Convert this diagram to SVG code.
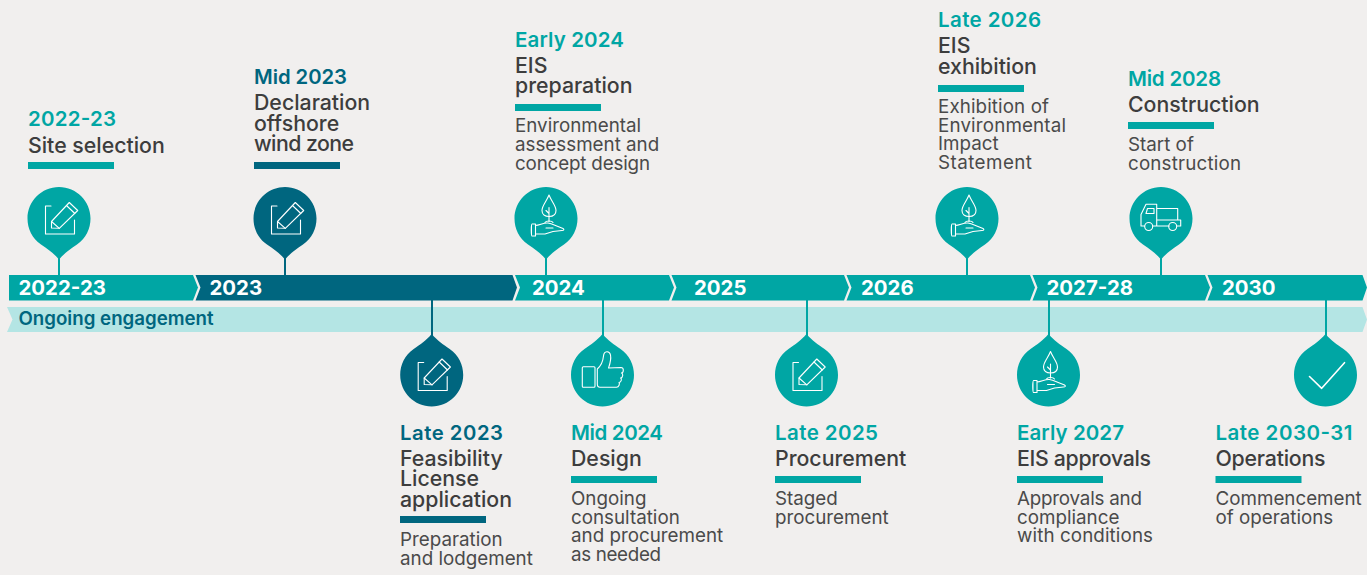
<svg xmlns="http://www.w3.org/2000/svg" width="1367" height="575" viewBox="0 0 1367 575">
<style>
text{font-family:"Inter","Noto Sans",sans-serif}
.d,.dn,.t,.b{transform:translateY(.6px)}
.d{font-size:20.500px;font-weight:600;fill:#00a6a4}
.dn{font-size:20.300px;font-weight:600;fill:#00667f}
.t{font-size:21.300px;font-weight:500;fill:#3d3d3d}
.b{font-size:18.800px;font-weight:400;fill:#4a4a4a}
.y{font-size:20.400px;font-weight:700;fill:#fff}
.e{font-size:18.700px;font-weight:600;fill:#00667f}
.i{fill:none;stroke:#fff;stroke-width:1.100;stroke-linejoin:round;stroke-linecap:round}
.teal{fill:#00a6a4}.navy{fill:#00667f}
.lt{stroke:#00a6a4;stroke-width:2;fill:none}.ln{stroke:#00667f;stroke-width:2;fill:none}
</style>
<defs>
<path id="pinD" d="M0,41C-6,34 -11,31 -18,26C-27,20 -31.500,10 -31.500,0C-31.500,-17.400 -17.400,-31.500 0,-31.500C17.400,-31.500 31.500,-17.400 31.500,0C31.500,10 27,20 18,26C11,31 6,34 0,41Z"/>
<path id="pinU" d="M0,-41C6,-34 11,-31 18,-26C27,-20 31.500,-10 31.500,0C31.500,17.400 17.400,31.500 0,31.500C-17.400,31.500 -31.500,17.400 -31.500,0C-31.500,-10 -27,-20 -18,-26C-11,-31 -6,-34 0,-41Z"/>
<g id="pencil" class="i"><path d="M-8,-12.500H-13.500V15.500H15.500V1.500"/><path d="M-7.500,3L10.300,-16L18.700,-8L0.300,9.800L-7.500,9.500Z"/><path d="M7.500,-13L15.800,-5M-7.500,3L0.300,9.800"/></g>
<g id="plant" class="i"><path d="M2,-23.500C-0.500,-17 -5,-13 -5,-8C-5,-4 -2,-2 2,-2C6,-2 9,-4 9,-8C9,-13 4.500,-17 2,-23.500Z"/><path d="M2,-11V3M2,-5L-1,-8"/><path d="M-2,4C-1,2 5,2 6,4"/><path d="M-15,5.500H-11.500V17.500H-15C-16,17.500 -16,5.500 -15,5.500ZM-11.500,7C-7,6.500 -3,4 1,4.500C5,5 8,7 11,8L16,10C17.500,11 17,12 15,12L6,13L-2,15.500L-11.500,15.500M-1,9.500H6"/></g>
<g id="truck" class="i"><path d="M-20,7.500V-4L-15,-14.200H-4.300V7.500M-4.300,-10H16.700V1.500M-4.300,1.500H19.700V7.500H16M8,7.500H-8.500M-16.500,7.500H-20"/><path d="M-15,-5L-13.500,-10H-7V-5Z"/><circle cx="-12.300" cy="8" r="4"/><circle cx="11.700" cy="8" r="4"/></g>
<g id="thumb" class="i"><rect x="-20.700" y="-8.300" width="12.700" height="20.600" rx="1"/><path d="M-5.700,-6C-1,-10 0,-14 0.500,-19C1,-24.500 6.500,-24.500 7.500,-20C8.500,-15 6.500,-10 5.500,-7L18,-7.500C21,-7.500 21,-2.500 18.500,-2C20.500,-1.500 20,3 17.500,3C19,3.500 18.500,7.500 16,7.500C17,8.500 16,12.300 13.500,12.300H-3C-5,12.300 -5.700,11 -5.700,9Z"/></g>
</defs>
<rect width="1367" height="575" fill="#f1efee"/>
<g id="ongoing">
<path d="M7,307H1362.500L1367,319.500L1362.500,332H7L12.500,319.500Z" fill="#b4e5e4"/>
<text class="e" x="18.500" y="325">Ongoing engagement</text>
</g>
<g id="connectors">
<path class="lt" d="M59,255V275"/><path class="ln" d="M285,255V275"/><path class="lt" d="M546,255V275"/><path class="lt" d="M967,255V275"/><path class="lt" d="M1161,255V275"/>
<path class="ln" d="M432,300V340"/><path class="lt" d="M603,300V340"/><path class="lt" d="M807,300V340"/><path class="lt" d="M1049,300V340"/><path class="lt" d="M1326,300V340"/>
</g>
<g id="bar">
<path class="teal" d="M9,275H193L198,287.500L193,300.500H9Z"/>
<path class="navy" d="M195.500,275H512.500L517,287.500L512.500,300.500H195.500L200.500,287.500Z"/>
<path class="teal" d="M515,275H669L674,287.500L669,300.500H515L520,287.500Z"/>
<path class="teal" d="M671.500,275H844L849,287.500L844,300.500H671.500L676.500,287.500Z"/>
<path class="teal" d="M846.500,275H1030L1035,287.500L1030,300.500H846.500L851.500,287.500Z"/>
<path class="teal" d="M1032.500,275H1205L1210,287.500L1205,300.500H1032.500L1037.500,287.500Z"/>
<path class="teal" d="M1207.500,275H1362.500L1367,287.500L1362.500,300.500H1207.500L1212.500,287.500Z"/>
<text class="y" x="18.500" y="295">2022-23</text><text class="y" x="209.500" y="295">2023</text><text class="y" x="532" y="295">2024</text><text class="y" x="694" y="295">2025</text><text class="y" x="861" y="295">2026</text><text class="y" x="1046.500" y="295">2027-28</text><text class="y" x="1222" y="295">2030</text>
</g>
<g id="n2022-23"><use href="#pinD" class="teal" x="59" y="218.500"/><use href="#pencil" x="59" y="218.500"/>
<text class="d" x="28" y="125" textLength="88">2022-23</text><text class="t" x="28" y="152">Site selection</text><rect class="teal" x="28" y="162" width="86" height="7"/></g>
<g id="nMid2023"><use href="#pinD" class="navy" x="285" y="218.500"/><use href="#pencil" x="285" y="218.500"/>
<text class="dn" x="254" y="83" textLength="93">Mid 2023</text><text class="t" x="254" y="109">Declaration</text><text class="t" x="254" y="130">offshore</text><text class="t" x="254" y="150" textLength="100">wind zone</text><rect class="navy" x="254" y="162" width="86" height="7"/></g>
<g id="nEarly2024"><use href="#pinD" class="teal" x="546" y="218.500"/><use href="#plant" x="547" y="218.500"/>
<text class="d" x="515" y="46" textLength="109">Early 2024</text><text class="t" x="515" y="72">EIS</text><text class="t" x="515" y="92">preparation</text><rect class="teal" x="515" y="104" width="86" height="7"/>
<text class="b" x="515" y="131">Environmental</text><text class="b" x="515" y="150">assessment and</text><text class="b" x="515" y="169" textLength="135">concept design</text></g>
<g id="nLate2026"><use href="#pinD" class="teal" x="967" y="218.500"/><use href="#plant" x="967" y="218.500"/>
<text class="d" x="938" y="26" textLength="103">Late 2026</text><text class="t" x="938" y="52">EIS</text><text class="t" x="938" y="73">exhibition</text><rect class="teal" x="938" y="85" width="86" height="7"/>
<text class="b" x="938" y="112" textLength="111">Exhibition of</text><text class="b" x="938" y="131" textLength="128">Environmental</text><text class="b" x="938" y="149.500">Impact</text><text class="b" x="938" y="168" textLength="94">Statement</text></g>
<g id="nMid2028"><use href="#pinD" class="teal" x="1161" y="218.500"/><use href="#truck" x="1161" y="218.500"/>
<text class="d" x="1128" y="85" textLength="93">Mid 2028</text><text class="t" x="1128" y="111">Construction</text><rect class="teal" x="1128" y="122" width="86" height="7"/>
<text class="b" x="1128" y="150">Start of</text><text class="b" x="1128" y="169" textLength="113">construction</text></g>
<g id="nLate2023"><use href="#pinU" class="navy" x="431.700" y="375"/><use href="#pencil" x="431.700" y="375"/>
<text class="dn" x="400" y="439" textLength="103">Late 2023</text><text class="t" x="400" y="465">Feasibility</text><text class="t" x="400" y="485">License</text><text class="t" x="400" y="506">application</text><rect class="navy" x="400" y="516" width="86" height="7"/>
<text class="b" x="400" y="545">Preparation</text><text class="b" x="400" y="564">and lodgement</text></g>
<g id="nMid2024"><use href="#pinU" class="teal" x="602.500" y="375"/><use href="#thumb" x="603" y="375"/>
<text class="d" x="571" y="439" textLength="92">Mid 2024</text><text class="t" x="571" y="465">Design</text><rect class="teal" x="571" y="476" width="86" height="7"/>
<text class="b" x="571" y="504">Ongoing</text><text class="b" x="571" y="523">consultation</text><text class="b" x="571" y="541.500">and procurement</text><text class="b" x="571" y="560" textLength="90">as needed</text></g>
<g id="nLate2025"><use href="#pinU" class="teal" x="806.500" y="375"/><use href="#pencil" x="806.500" y="375"/>
<text class="d" x="775" y="439" textLength="103">Late 2025</text><text class="t" x="775" y="465">Procurement</text><rect class="teal" x="775" y="476" width="86" height="7"/>
<text class="b" x="775" y="504">Staged</text><text class="b" x="775" y="523">procurement</text></g>
<g id="nEarly2027"><use href="#pinU" class="teal" x="1048.500" y="375"/><use href="#plant" x="1048.500" y="375"/>
<text class="d" x="1017" y="439" textLength="107">Early 2027</text><text class="t" x="1017" y="465" textLength="134">EIS approvals</text><rect class="teal" x="1017" y="476" width="86" height="7"/>
<text class="b" x="1017" y="504" textLength="125">Approvals and</text><text class="b" x="1017" y="523">compliance</text><text class="b" x="1017" y="541" textLength="136">with conditions</text></g>
<g id="nLate2030"><use href="#pinU" class="teal" x="1325.500" y="375"/><path class="i" style="stroke-width:1.600" d="M1309.500,376.500L1321.700,388.300L1344.500,362.700"/>
<text class="d" x="1215.500" y="439" textLength="137">Late 2030-31</text><text class="t" x="1215.500" y="465" textLength="110">Operations</text><rect class="teal" x="1215.500" y="476" width="86" height="7"/>
<text class="b" x="1215.500" y="504">Commencement</text><text class="b" x="1215.500" y="523">of operations</text></g>
</svg>
